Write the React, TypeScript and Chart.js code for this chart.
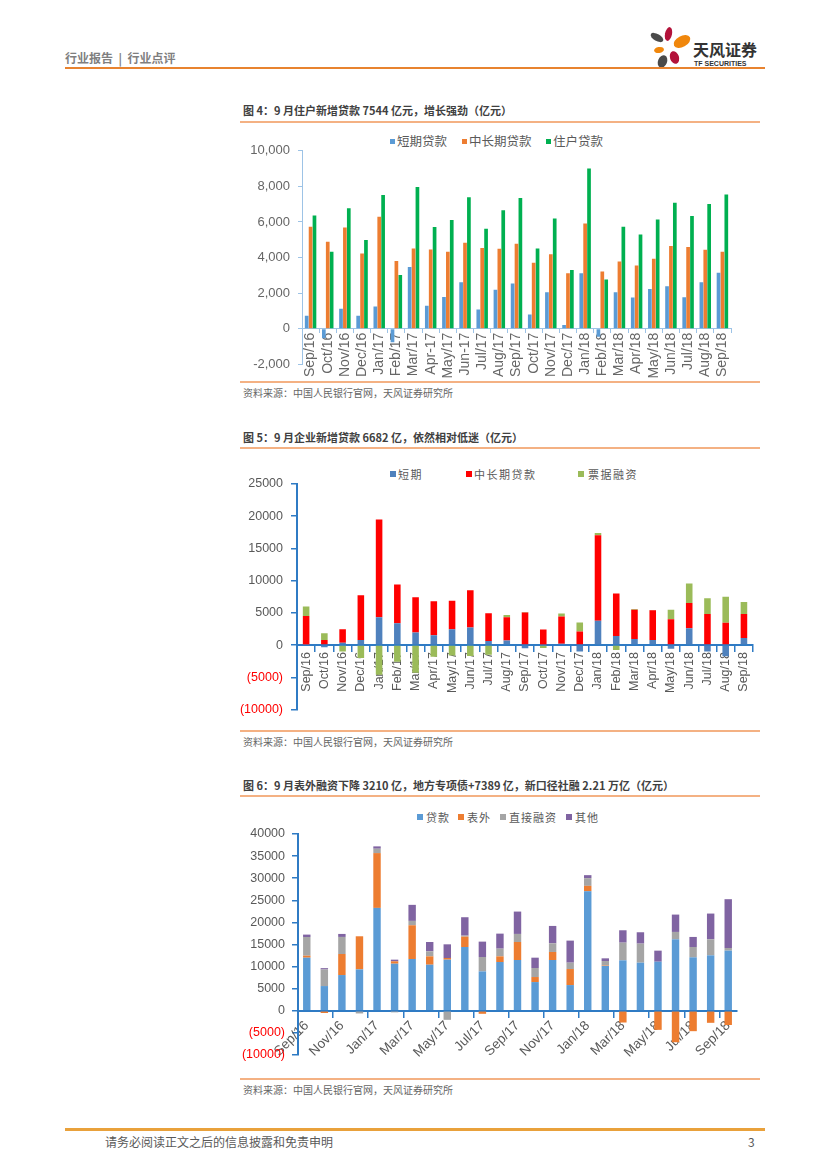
import React, { useEffect, useRef } from 'react';
import { Chart, registerables } from 'chart.js';

Chart.register(...registerables);
Chart.defaults.font.family = "'Liberation Sans', 'Noto Sans CJK SC', sans-serif";

// ---------- data ----------
const labelsHH = ['Sep/16', 'Oct/16', 'Nov/16', 'Dec/16', 'Jan/17', 'Feb/17', 'Mar/17', 'Apr-17', 'May/17', 'Jun-17', 'Jul/17', 'Aug/17', 'Sep/17', 'Oct/17', 'Nov/17', 'Dec/17', 'Jan/18', 'Feb/18', 'Mar/18', 'Apr/18', 'May/18', 'Jun/18', 'Jul/18', 'Aug/18', 'Sep/18'];
const labelsMonth = ['Sep/16', 'Oct/16', 'Nov/16', 'Dec/16', 'Jan/17', 'Feb/17', 'Mar/17', 'Apr/17', 'May/17', 'Jun/17', 'Jul/17', 'Aug/17', 'Sep/17', 'Oct/17', 'Nov/17', 'Dec/17', 'Jan/18', 'Feb/18', 'Mar/18', 'Apr/18', 'May/18', 'Jun/18', 'Jul/18', 'Aug/18', 'Sep/18'];

// Figure 4: household loans
const hhShort = [720, -540, 1120, 720, 1240, -770, 3460, 1280, 1780, 2610, 1080, 2180, 2540, 790, 2040, 200, 3120, -450, 2050, 1750, 2230, 2380, 1770, 2610, 3140];
const hhLong = [5730, 4880, 5690, 4220, 6290, 3800, 4500, 4450, 4320, 4830, 4540, 4490, 4770, 3710, 4180, 3120, 5910, 3210, 3770, 3550, 3930, 4650, 4590, 4430, 4320];
const hhTotal = [6360, 4320, 6770, 4990, 7510, 3010, 7960, 5710, 6110, 7390, 5620, 6650, 7350, 4500, 6200, 3300, 9010, 2760, 5730, 5300, 6140, 7080, 6340, 7010, 7544];

// Figure 5: corporate loans
const corpShort = [50, -350, 350, 770, 4320, 3400, 1950, 1540, 2470, 2730, 620, 720, -500, 100, 200, -980, 3760, 1390, 930, 770, -570, 2620, -980, -1750, 1080];
const corpLong = [4480, 800, 2120, 6950, 15180, 6010, 5460, 5250, 4420, 5760, 4320, 3600, 5040, 2300, 4220, 2110, 13270, 6630, 4570, 4630, 4010, 3910, 4840, 3450, 3760];
const corpBill = [1440, 1050, -1000, -2000, -4600, -2600, -4300, -1800, -1600, -1700, -1500, 360, 100, -450, 470, 1390, 360, -770, 80, 60, 1490, 3040, 2410, 4060, 1850];

// Figure 6: total social financing
const tsfLoan = [12020, 5600, 8090, 9370, 23280, 10660, 11720, 10430, 11570, 14440, 8920, 11040, 11490, 6500, 11490, 5820, 27060, 10130, 11420, 10890, 11110, 16180, 12100, 12550, 13610];
const tsfOff = [450, -500, 4760, 7490, 12400, 530, 7630, 1890, 380, 2340, -680, 1280, 4080, 1140, 1820, 3630, 1210, 100, -2650, 0, -4310, -7110, -4610, -2720, -3210];
const tsfDirect = [4230, 3750, 3860, -600, 990, -350, 990, 1140, -2040, 230, 3250, 1740, 1820, 2040, 1960, 1440, 1740, 1030, 4000, 4310, 0, 1660, 2340, 3630, 600];
const tsfOther = [540, 300, 680, 0, 530, 380, 3630, 2110, 3090, 4160, 3480, 3400, 5060, 2340, 3930, 4990, 680, 610, 2800, 2570, 2500, 3930, 2270, 5820, 11040];

const GRAY = '#595959';
const LIGHT_AXIS = '#9DC3E6';
const BLUE_AXIS = '#2F7BC4';

const parenFmt = (v: any) => (Number(v) < 0 ? `(${-Number(v)})` : `${v}`);
const negRed = (ctx: any) => (ctx.tick && ctx.tick.value < 0 ? '#FF0000' : GRAY);

function config1() {
  return {
    type: 'bar',
    data: {
      labels: labelsHH,
      datasets: [
        { label: '短期贷款', data: hhShort, backgroundColor: '#5B9BD5', borderWidth: 0 },
        { label: '中长期贷款', data: hhLong, backgroundColor: '#ED7D31', borderWidth: 0 },
        { label: '住户贷款', data: hhTotal, backgroundColor: '#00B050', borderWidth: 0 },
      ],
    },
    options: {
      animation: false,
      responsive: false,
      layout: { padding: { left: 0, right: 29, top: 13, bottom: 11 } },
      plugins: { legend: { display: false }, tooltip: { enabled: false } },
      datasets: { bar: { categoryPercentage: 0.68, barPercentage: 0.95 } },
      scales: {
        x: {
          axis: 'x',
          position: { y: 0 },
          afterFit: (s: any) => { s.height = 0; },
          grid: { drawOnChartArea: false, drawTicks: true, tickLength: 4, color: LIGHT_AXIS, offset: true },
          border: { color: LIGHT_AXIS, width: 1 },
          ticks: { autoSkip: false, minRotation: 90, maxRotation: 90, padding: 0, color: '#666666', font: { size: 14 } },
        },
        y: {
          min: -2000,
          max: 10000,
          afterFit: (s: any) => { s.width = 62; },
          grid: { drawOnChartArea: false, drawTicks: true, tickLength: 4, color: LIGHT_AXIS },
          border: { color: LIGHT_AXIS, width: 1 },
          ticks: { stepSize: 2000, padding: 8, color: '#666666', font: { size: 13 }, callback: (v: any) => Number(v).toLocaleString('en-US') },
        },
      },
    },
  };
}

function config2() {
  return {
    type: 'bar',
    data: {
      labels: labelsMonth,
      datasets: [
        { label: '短期', data: corpShort, backgroundColor: '#4F81BD', borderWidth: 0 },
        { label: '中长期贷款', data: corpLong, backgroundColor: '#FF0000', borderWidth: 0 },
        { label: '票据融资', data: corpBill, backgroundColor: '#9BBB59', borderWidth: 0 },
      ],
    },
    options: {
      animation: false,
      responsive: false,
      layout: { padding: { left: 0, right: 3, top: 29, bottom: 15 } },
      plugins: { legend: { display: false }, tooltip: { enabled: false } },
      datasets: { bar: { categoryPercentage: 0.4, barPercentage: 0.9 } },
      scales: {
        x: {
          axis: 'x',
          stacked: true,
          position: { y: 0 },
          afterFit: (s: any) => { s.height = 0; },
          grid: { drawOnChartArea: false, drawTicks: true, tickLength: 6, color: BLUE_AXIS, lineWidth: 1.5, offset: true },
          border: { color: BLUE_AXIS, width: 2 },
          ticks: { autoSkip: false, minRotation: 90, maxRotation: 90, padding: 1, color: GRAY, font: { size: 12.5 } },
        },
        y: {
          stacked: true,
          min: -10000,
          max: 25000,
          afterFit: (s: any) => { s.width = 57; },
          grid: { drawOnChartArea: false, drawTicks: true, tickLength: 6, color: BLUE_AXIS, lineWidth: 1.5 },
          border: { color: BLUE_AXIS, width: 2 },
          ticks: { stepSize: 5000, padding: 8, color: negRed, font: { size: 12.5 }, callback: parenFmt },
        },
      },
    },
  };
}

function config3() {
  return {
    type: 'bar',
    data: {
      labels: labelsMonth,
      datasets: [
        { label: '贷款', data: tsfLoan, backgroundColor: '#5B9BD5', borderWidth: 0 },
        { label: '表外', data: tsfOff, backgroundColor: '#ED7D31', borderWidth: 0 },
        { label: '直接融资', data: tsfDirect, backgroundColor: '#A5A5A5', borderWidth: 0 },
        { label: '其他', data: tsfOther, backgroundColor: '#8064A2', borderWidth: 0 },
      ],
    },
    options: {
      animation: false,
      responsive: false,
      layout: { padding: { left: 0, right: 23, top: 29, bottom: 15 } },
      plugins: { legend: { display: false }, tooltip: { enabled: false } },
      datasets: { bar: { categoryPercentage: 0.47, barPercentage: 0.9 } },
      scales: {
        x: {
          axis: 'x',
          stacked: true,
          position: { y: 0 },
          afterFit: (s: any) => { s.height = 0; },
          grid: {
            drawOnChartArea: false,
            drawTicks: true,
            tickLength: 6,
            lineWidth: 1.5,
            offset: true,
            color: (ctx: any) => (typeof ctx.index === 'number' && ctx.index % 2 === 0 ? BLUE_AXIS : 'rgba(0,0,0,0)'),
          },
          border: { color: BLUE_AXIS, width: 2 },
          ticks: {
            autoSkip: false,
            minRotation: 45,
            maxRotation: 45,
            padding: 1,
            color: GRAY,
            font: { size: 13.5 },
            callback: (_v: any, i: number) => (i % 2 === 0 ? labelsMonth[i] : ''),
          },
        },
        y: {
          stacked: true,
          min: -10000,
          max: 40000,
          afterFit: (s: any) => { s.width = 58; },
          grid: { drawOnChartArea: false, drawTicks: true, tickLength: 6, color: BLUE_AXIS, lineWidth: 1.5 },
          border: { color: BLUE_AXIS, width: 2 },
          ticks: { stepSize: 5000, padding: 7, color: negRed, font: { size: 12.5 }, callback: parenFmt },
        },
      },
    },
  };
}

// ---------- components ----------
function ChartCanvas(props: { left: number; top: number; width: number; height: number; make: () => any }) {
  const ref = useRef<HTMLCanvasElement>(null);
  useEffect(() => {
    const chart = new Chart(ref.current as HTMLCanvasElement, props.make());
    return () => chart.destroy();
  }, []);
  return (
    <canvas
      ref={ref}
      width={props.width}
      height={props.height}
      style={{ position: 'absolute', left: props.left, top: props.top, width: props.width, height: props.height }}
    />
  );
}

function T(props: { x: number; y: number; size: number; color?: string; weight?: any; ls?: number; family?: string; children: any }) {
  const lh = Math.round(props.size * 1.4);
  return (
    <div
      style={{
        position: 'absolute',
        left: props.x,
        top: props.y - lh / 2,
        height: lh,
        lineHeight: `${lh}px`,
        fontSize: props.size,
        color: props.color || GRAY,
        fontWeight: props.weight || 'normal',
        letterSpacing: props.ls || 0,
        whiteSpace: 'pre',
        fontFamily: props.family || "'Noto Sans CJK SC', 'Liberation Sans', sans-serif",
      }}
    >
      {props.children}
    </div>
  );
}

function HLine(props: { x: number; y: number; w: number; h: number; color: string }) {
  return <div style={{ position: 'absolute', left: props.x, top: props.y, width: props.w, height: props.h, background: props.color }} />;
}

function Legend(props: { y: number; size: number; box: number; ls: number; items: { x: number; tx: number; color: string; text: string }[] }) {
  return (
    <>
      {props.items.map((it, i) => (
        <React.Fragment key={i}>
          <div style={{ position: 'absolute', left: it.x, top: props.y - props.box / 2, width: props.box, height: props.box, background: it.color }} />
          <T x={it.tx} y={props.y} size={props.size} ls={props.ls}>{it.text}</T>
        </React.Fragment>
      ))}
    </>
  );
}

const petals = [
  { x: 650, y: 34, w: 14, h: 7, rot: 30, c: '#4A4A4A' },
  { x: 665, y: 27, w: 7, h: 14, rot: 12, c: '#B3123A' },
  { x: 673, y: 36, w: 18, h: 11, rot: -28, c: '#F0870C' },
  { x: 654, y: 47, w: 10, h: 6, rot: -10, c: '#F0870C' },
  { x: 670, y: 51, w: 9, h: 13, rot: -18, c: '#B3123A' },
  { x: 658, y: 55, w: 9, h: 13, rot: 22, c: '#4A4A4A' },
];

export default function App() {
  return (
    <div style={{ position: 'absolute', left: 0, top: 0, width: 827, height: 1169, background: '#FFFFFF', overflow: 'hidden' }}>
      {/* header */}
      <T x={65} y={57} size={12} color="#7F7F7F" weight="bold">{'行业报告  |  行业点评'}</T>
      {petals.map((p, i) => (
        <div key={i} style={{ position: 'absolute', left: p.x, top: p.y, width: p.w, height: p.h, borderRadius: '50%', background: p.c, transform: `rotate(${p.rot}deg)` }} />
      ))}
      <T x={693} y={49} size={16} color="#333333" weight="bold">天风证券</T>
      <T x={694} y={64} size={7} color="#333333" weight="bold" family="'Liberation Sans', sans-serif">TF SECURITIES</T>
      <HLine x={65} y={67} w={700} h={2} color="#E8832F" />

      {/* figure 4 */}
      <T x={243} y={110} size={11} color="#404040" weight="bold">图 4：9 月住户新增贷款 7544 亿元，增长强劲（亿元）</T>
      <HLine x={240} y={121} w={520} h={2} color="#F4B183" />
      <Legend
        y={141}
        size={12.5}
        box={5}
        ls={0}
        items={[
          { x: 390, tx: 397, color: '#5B9BD5', text: '短期贷款' },
          { x: 462, tx: 469, color: '#ED7D31', text: '中长期贷款' },
          { x: 546, tx: 553, color: '#00B050', text: '住户贷款' },
        ]}
      />
      <ChartCanvas left={240} top={135} width={520} height={245} make={config1} />
      <HLine x={240} y={381} w={520} h={2} color="#F4B183" />
      <T x={243} y={393} size={10} color="#666666">资料来源：中国人民银行官网，天风证券研究所</T>

      {/* figure 5 */}
      <T x={243} y={437} size={11} color="#404040" weight="bold">图 5：9 月企业新增贷款 6682 亿，依然相对低迷（亿元）</T>
      <HLine x={240} y={447} w={520} h={2} color="#F4B183" />
      <Legend
        y={474}
        size={11}
        box={6}
        ls={1.5}
        items={[
          { x: 390, tx: 398, color: '#4F81BD', text: '短期' },
          { x: 466, tx: 474, color: '#FF0000', text: '中长期贷款' },
          { x: 578, tx: 588, color: '#9BBB59', text: '票据融资' },
        ]}
      />
      <ChartCanvas left={240} top={455} width={520} height={270} make={config2} />
      <HLine x={240} y={730} w={520} h={2} color="#F4B183" />
      <T x={243} y={742} size={10} color="#666666">资料来源：中国人民银行官网，天风证券研究所</T>

      {/* figure 6 */}
      <T x={243} y={785} size={11} color="#404040" weight="bold">图 6：9 月表外融资下降 3210 亿，地方专项债+7389 亿，新口径社融 2.21 万亿（亿元）</T>
      <HLine x={240} y={795} w={520} h={2} color="#F4B183" />
      <Legend
        y={817}
        size={11}
        box={6}
        ls={1}
        items={[
          { x: 417, tx: 426, color: '#5B9BD5', text: '贷款' },
          { x: 458, tx: 467, color: '#ED7D31', text: '表外' },
          { x: 500, tx: 509, color: '#A5A5A5', text: '直接融资' },
          { x: 566, tx: 575, color: '#8064A2', text: '其他' },
        ]}
      />
      <ChartCanvas left={240} top={805} width={520} height={265} make={config3} />
      <HLine x={240} y={1078} w={520} h={2} color="#F4B183" />
      <T x={243} y={1090} size={10} color="#666666">资料来源：中国人民银行官网，天风证券研究所</T>

      {/* footer */}
      <HLine x={65} y={1128} w={700} h={3} color="#E9A13B" />
      <T x={105} y={1141} size={12}>请务必阅读正文之后的信息披露和免责申明</T>
      <T x={748} y={1141} size={12}>3</T>
    </div>
  );
}
